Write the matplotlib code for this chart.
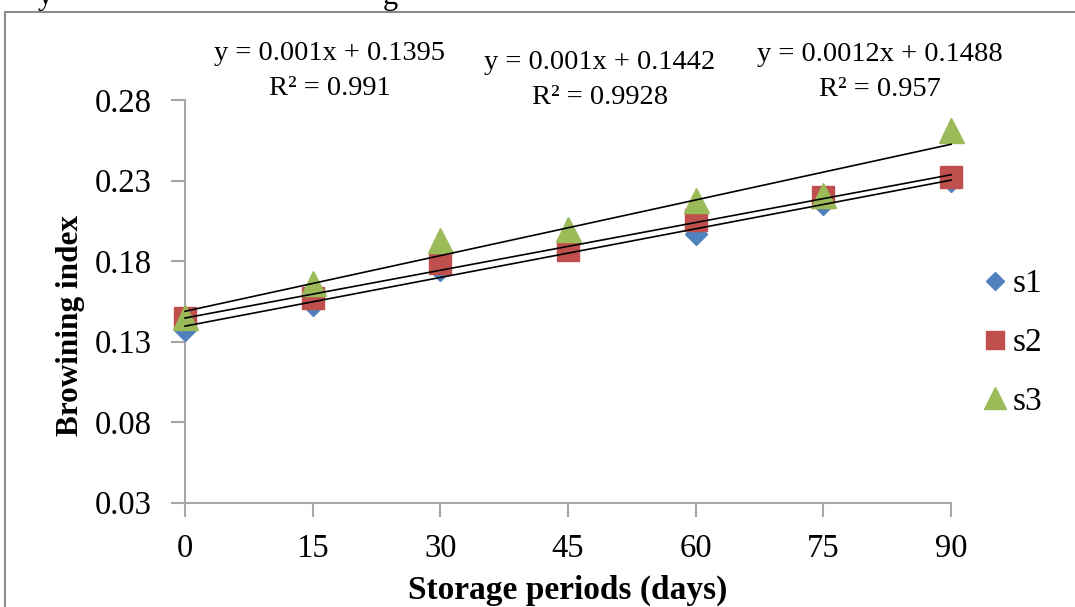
import numpy as np
import matplotlib.pyplot as plt
from matplotlib.patches import Rectangle

plt.rcParams['font.family'] = ['Liberation Serif', 'DejaVu Serif']

# dados
dias = [0, 15, 30, 45, 60, 75, 90]
s1 = [0.1375, 0.153, 0.1745, 0.188, 0.1965, 0.2155, 0.2295]
s2 = [0.1444, 0.157, 0.1786, 0.1867, 0.2054, 0.2197, 0.232]
s3 = [0.145, 0.1662, 0.193, 0.200, 0.218, 0.221, 0.2614]
nomes = ['s1', 's2', 's3']
equacoes = ['y = 0.001x + 0.1395\nR² = 0.991',
            'y = 0.001x + 0.1442\nR² = 0.9928',
            'y = 0.0012x + 0.1488\nR² = 0.957']
yticks = [0.03, 0.08, 0.13, 0.18, 0.23, 0.28]

cores = ['#4F81BD', '#C0504D', '#9BBB59']
marcadores = ['D', 's', '^']
tamanhos = [11, 16, 18]

fig = plt.figure(figsize=(10.75, 6.07), dpi=100)
ax = fig.add_axes([0.1721, 0.1718, 0.7126, 0.6635])

for serie, nome, cor, mk, ms in zip([s1, s2, s3], nomes, cores, marcadores, tamanhos):
    ax.plot(dias, serie, linestyle='none', marker=mk, color=cor, markersize=ms,
            label=nome, zorder=3, clip_on=False)
    # linha de tendencia
    a, b = np.polyfit(dias, serie, 1)
    xs = np.array([dias[0], dias[-1]])
    ax.plot(xs, a * xs + b, color='black', lw=1.2, zorder=4, clip_on=False)

ax.set_xlim(0, 90)
ax.set_ylim(0.03, 0.28)
ax.set_xticks(dias)
ax.set_yticks(yticks)
ax.set_yticklabels([f'{v:.2f}' for v in yticks])
ax.tick_params(axis='both', labelsize=23.5, color='#a6a6a6', width=1.5, length=10)
ax.tick_params(axis='x', pad=12)
ax.tick_params(axis='y', pad=14)
for lado in ['top', 'right']:
    ax.spines[lado].set_visible(False)
for lado in ['left', 'bottom']:
    ax.spines[lado].set_color('#a6a6a6')
    ax.spines[lado].set_linewidth(1.5)
    ax.spines[lado].set_zorder(1)

ax.set_xlabel('Storage periods (days)', fontsize=24, fontweight='bold')
ax.xaxis.set_label_coords(0.5, -0.178)
ax.set_ylabel('Browining index', fontsize=22.5, fontweight='bold')
ax.yaxis.set_label_coords(-0.13, 0.44)

# equacoes das linhas de tendencia
pos_eq = [(330 / 1075, 1 - 71 / 607), (600 / 1075, 1 - 80 / 607), (880 / 1075, 1 - 72 / 607)]
for (px, py), txt in zip(pos_eq, equacoes):
    fig.text(px, py, txt, fontsize=20.5, ha='center', va='center', linespacing=1.5)

fig.legend(loc='center left', bbox_to_anchor=(969 / 1075, 1 - 343 / 607), frameon=False,
           fontsize=24, handlelength=0.55, handletextpad=0.25, labelspacing=0.85,
           borderpad=0, markerscale=0.85)

# moldura do grafico
fig.add_artist(Rectangle((5 / 1075, -0.1), 1.2, 1.1 - 12 / 607, transform=fig.transFigure,
                         fill=False, edgecolor='#8c8c8c', lw=1.5))

# pedacos de texto cortados no topo
fig.text(45 / 1075, 1.005, 'y', fontsize=22, ha='center', va='center')
fig.text(390 / 1075, 1.005, 'g', fontsize=22, ha='center', va='center')

plt.savefig('out.png', dpi=100)
